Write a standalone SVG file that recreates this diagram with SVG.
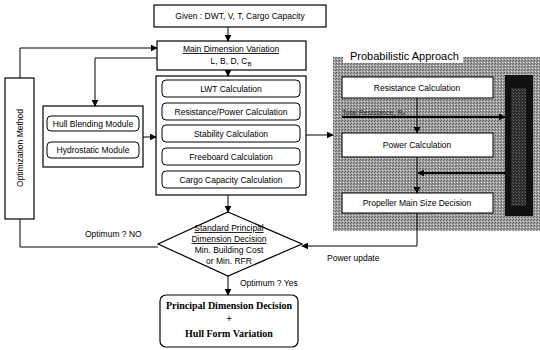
<svg xmlns="http://www.w3.org/2000/svg" width="540" height="350" viewBox="0 0 540 350">
<defs>
<style>
.b{fill:#fff;stroke:#000;stroke-width:1.2}
.r{fill:#fff;stroke:#000;stroke-width:1}
.l{fill:none;stroke:#000;stroke-width:1}
.t{font-family:"Liberation Sans",Arial,sans-serif;font-size:8.5px;fill:#000;text-anchor:middle}
.s{font-family:"Liberation Serif","Times New Roman",serif;font-size:10px;font-weight:bold;fill:#000;text-anchor:middle}
</style>
<marker id="ah" viewBox="0 0 10 10" refX="9" refY="5" markerWidth="7" markerHeight="7" orient="auto" markerUnits="userSpaceOnUse"><path d="M0,0 L10,5 L0,10 z" fill="#000"/></marker>
<pattern id="dith" width="3" height="3" patternUnits="userSpaceOnUse"><rect width="3" height="3" fill="#a0a0a0"/><rect width="1" height="1" fill="#5a5a5a"/><rect x="2" y="1" width="1" height="1" fill="#6a6a6a"/><rect x="1" y="2" width="1" height="1" fill="#d8d8d8"/></pattern>
<pattern id="dark" width="3" height="3" patternUnits="userSpaceOnUse"><rect width="3" height="3" fill="#2a2a2a"/><rect width="1" height="1" fill="#6a6a6a"/><rect x="2" y="2" width="1" height="1" fill="#555"/></pattern>
</defs>
<rect width="540" height="350" fill="#fff"/>

<g id="given"><rect class="b" x="154" y="5" width="172" height="22"/><text class="t" x="240" y="19">Given : DWT, V, T, Cargo Capacity</text></g>

<g id="maindim"><rect class="b" x="157" y="41" width="149" height="29"/>
<text class="t" x="231" y="52" text-decoration="underline">Main Dimension Variation</text>
<text class="t" x="231" y="64">L, B, D, C<tspan font-size="6" dy="2">B</tspan></text></g>

<g id="calc"><rect class="b" x="156" y="76" width="150" height="119"/>
<rect class="r" x="162" y="80" width="138" height="17" rx="4"/><text class="t" x="231" y="91.5">LWT Calculation</text>
<rect class="r" x="162" y="103" width="138" height="17" rx="4"/><text class="t" x="231" y="114.5">Resistance/Power Calculation</text>
<rect class="r" x="162" y="125" width="138" height="17" rx="4"/><text class="t" x="231" y="136.5">Stability Calculation</text>
<rect class="r" x="162" y="148" width="138" height="17" rx="4"/><text class="t" x="231" y="159.5">Freeboard Calculation</text>
<rect class="r" x="162" y="171" width="138" height="17" rx="4"/><text class="t" x="231" y="182.5">Cargo Capacity Calculation</text></g>

<g id="opt"><rect class="b" x="5" y="78" width="29" height="141"/>
<text class="t" transform="translate(23,148) rotate(-90)">Optimization Method</text></g>

<g id="hull"><rect class="b" x="43" y="106" width="100" height="61"/>
<rect class="r" x="47" y="116" width="92" height="15" rx="4"/><text class="t" x="93" y="126.5">Hull Blending Module</text>
<rect class="r" x="47" y="142" width="92" height="16" rx="4"/><text class="t" x="93" y="153">Hydrostatic Module</text></g>

<g id="prob">
<rect x="333" y="57" width="207" height="174" fill="url(#dith)"/>
<rect x="343" y="48" width="120" height="15" fill="#fff"/>
<text x="350" y="60" font-family="Liberation Sans,Arial,sans-serif" font-size="11" fill="#000">Probabilistic Approach</text>
<rect x="505" y="75" width="28" height="141" fill="#111"/>
<rect x="511" y="88" width="15" height="118" fill="url(#dark)"/>
<rect class="r" x="342" y="77" width="151" height="21"/><text class="t" x="417" y="90.5">Resistance Calculation</text>
<rect class="r" x="342" y="133" width="151" height="24"/><text class="t" x="417" y="148">Power Calculation</text>
<rect class="r" x="342" y="193" width="151" height="20"/><text class="t" x="417" y="206">Propeller Main Size Decision</text>
<text x="342" y="115" font-family="Liberation Sans,Arial,sans-serif" font-size="7" fill="#222">Total Resistance, R<tspan font-size="5" dy="1.5">T</tspan></text>
</g>

<g id="diamond"><path class="b" d="M228,212 L302,244 L228,276 L158,244 Z"/>
<text class="t" x="229" y="231" text-decoration="underline">Standard Principal</text>
<text class="t" x="229" y="242" text-decoration="underline">Dimension Decision</text>
<text class="t" x="229" y="253">Min. Building Cost</text>
<text class="t" x="229" y="264">or Min. RFR</text></g>

<g id="final"><rect class="b" x="160" y="295" width="138" height="52" rx="6"/>
<text class="s" x="229" y="309">Principal Dimension Decision</text>
<text class="s" x="229" y="322">+</text>
<text class="s" x="229" y="337">Hull Form Variation</text></g>

<g id="connectors">
<line class="l" x1="228" y1="27" x2="228" y2="41" marker-end="url(#ah)"/>
<line class="l" x1="228" y1="70" x2="228" y2="76" marker-end="url(#ah)"/>
<polyline class="l" points="20,78 20,48 157,48" marker-end="url(#ah)"/>
<polyline class="l" points="157,58 95,58 95,106" marker-end="url(#ah)"/>
<line class="l" x1="143" y1="137" x2="156" y2="137" marker-end="url(#ah)"/>
<line class="l" x1="306" y1="135" x2="333" y2="135" marker-end="url(#ah)"/>
<line class="l" x1="228" y1="195" x2="228" y2="212" marker-end="url(#ah)"/>
<polyline class="l" points="20,219 20,247 158,247"/>
<text x="85" y="237" font-family="Liberation Sans,Arial,sans-serif" font-size="8.5" fill="#000">Optimum ? NO</text>
<line class="l" x1="228" y1="276" x2="228" y2="295" marker-end="url(#ah)"/>
<text x="240" y="286" font-family="Liberation Sans,Arial,sans-serif" font-size="8.5" fill="#000">Optimum ? Yes</text>
<polyline class="l" points="417,213 417,246 302,246" marker-end="url(#ah)"/>
<text x="327" y="261" font-family="Liberation Sans,Arial,sans-serif" font-size="8.5" fill="#000">Power update</text>
<line class="l" x1="417" y1="98" x2="417" y2="133" marker-end="url(#ah)"/>
<line x1="342" y1="117" x2="505" y2="117" stroke="#000" stroke-width="2" marker-end="url(#ah)"/>
<line class="l" x1="417" y1="157" x2="417" y2="193" marker-end="url(#ah)"/>
<line x1="505" y1="173" x2="418" y2="173" stroke="#000" stroke-width="2" marker-end="url(#ah)"/>
</g>
</svg>
